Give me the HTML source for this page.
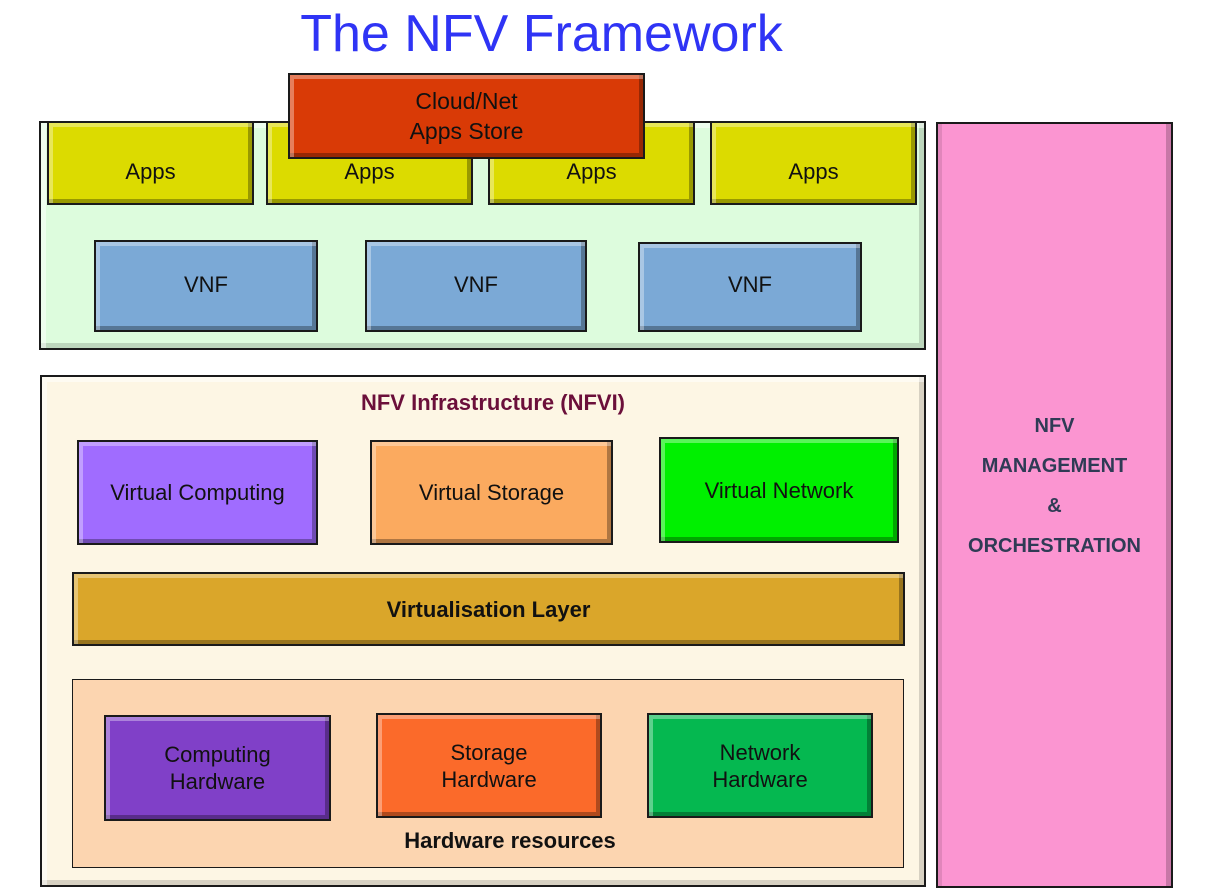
<!DOCTYPE html>
<html><head><meta charset="utf-8"><style>
body{margin:0;width:1213px;height:889px;background:#fff;position:relative;overflow:hidden;font-family:"Liberation Sans",sans-serif}
.b{position:absolute;box-sizing:border-box;border:2px solid #1a1a1a;display:flex;align-items:center;justify-content:center;text-align:center;font-size:22px;color:#111;line-height:27px;
box-shadow:inset 4px 4px 0 rgba(255,255,255,.35),inset -4px -4px 0 rgba(0,0,0,.3)}
.t{position:absolute;font-weight:bold;text-align:center}
</style></head><body>
<div class="t" style="left:0;width:1083px;top:4px;font-size:52px;font-weight:normal;color:#2f34f5">The NFV Framework</div>

<div class="b" style="left:39px;top:121px;width:887px;height:229px;background:#ddfcdd;box-shadow:inset 5px 5px 0 rgba(255,255,255,.5),inset -5px -5px 0 rgba(0,0,0,.15)"></div>
<div class="b" style="left:47px;top:121px;width:207px;height:84px;background:#dcdb00;padding-top:16px">Apps</div>
<div class="b" style="left:266px;top:121px;width:207px;height:84px;background:#dcdb00;padding-top:16px">Apps</div>
<div class="b" style="left:488px;top:121px;width:207px;height:84px;background:#dcdb00;padding-top:16px">Apps</div>
<div class="b" style="left:710px;top:121px;width:207px;height:84px;background:#dcdb00;padding-top:16px">Apps</div>
<div class="b" style="left:288px;top:73px;width:357px;height:86px;background:#d93a06;font-size:23px;line-height:30px">Cloud/Net<br>Apps Store</div>
<div class="b" style="left:94px;top:240px;width:224px;height:92px;background:#7ba9d6;padding-bottom:4px">VNF</div>
<div class="b" style="left:365px;top:240px;width:222px;height:92px;background:#7ba9d6;padding-bottom:4px">VNF</div>
<div class="b" style="left:638px;top:242px;width:224px;height:90px;background:#7ba9d6;padding-bottom:6px">VNF</div>

<div class="b" style="left:40px;top:375px;width:886px;height:512px;background:#fdf6e4;box-shadow:inset 5px 5px 0 rgba(255,255,255,.5),inset -5px -5px 0 rgba(0,0,0,.15)"></div>
<div class="t" style="left:40px;width:906px;top:390px;font-size:22px;color:#6b0f3a">NFV Infrastructure (NFVI)</div>
<div class="b" style="left:77px;top:440px;width:241px;height:105px;background:#a06cff">Virtual Computing</div>
<div class="b" style="left:370px;top:440px;width:243px;height:105px;background:#fbaa5f">Virtual Storage</div>
<div class="b" style="left:659px;top:437px;width:240px;height:106px;background:#00f000">Virtual Network</div>
<div class="b" style="left:72px;top:572px;width:833px;height:74px;background:#daa62a;font-weight:bold">Virtualisation Layer</div>
<div class="b" style="left:72px;top:679px;width:832px;height:189px;background:#fcd5b0;border-width:1px;box-shadow:none"></div>
<div class="b" style="left:104px;top:715px;width:227px;height:106px;background:#8040c8">Computing<br>Hardware</div>
<div class="b" style="left:376px;top:713px;width:226px;height:105px;background:#fb6a2a">Storage<br>Hardware</div>
<div class="b" style="left:647px;top:713px;width:226px;height:105px;background:#05b850">Network<br>Hardware</div>
<div class="t" style="left:72px;width:876px;top:828px;font-size:22px;color:#111">Hardware resources</div>

<div class="b" style="left:936px;top:122px;width:237px;height:766px;background:#fb95d1;box-shadow:inset 4px 0 0 rgba(0,0,0,.1),inset -5px 0 0 rgba(0,0,0,.2)"></div>
<div class="t" style="left:936px;width:237px;top:406px;font-size:20px;line-height:40px;color:#2f3b55">NFV<br>MANAGEMENT<br>&amp;<br>ORCHESTRATION</div>
</body></html>
